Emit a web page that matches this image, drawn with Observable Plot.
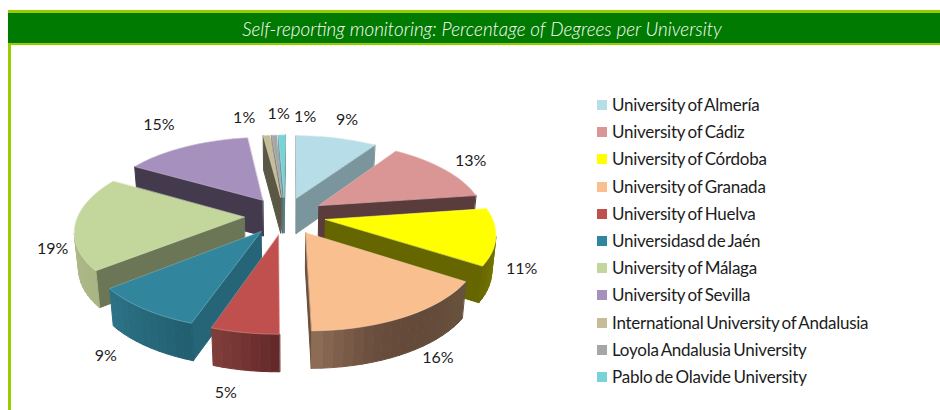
<!DOCTYPE html>
<html><head><meta charset="utf-8">
<script src="https://cdn.jsdelivr.net/npm/d3@7"></script>
<script src="https://cdn.jsdelivr.net/npm/@observablehq/plot@0.6"></script>
<style>
html,body{margin:0;padding:0;background:#fff;overflow:hidden}
#page{position:relative;width:940px;height:410px;font-family:Lato,sans-serif;color:#1c1c1c;overflow:hidden}
#title{position:absolute;left:8px;top:10px;right:0;height:30px;padding-left:16px;border-top:3px solid #99cc00;border-bottom:2px solid #99cc00;background:#007a00;color:#fff;font-style:italic;font-size:18.85px;font-weight:300;line-height:31px;text-align:center;box-shadow:0 0 1px #cfe88a}
#rule{position:absolute;left:8px;top:45px;bottom:0;width:3px;background:#99cc00}
#row{position:absolute;left:0;top:46px;display:flex}
#legend{position:absolute;left:597px;top:46px}
.item{position:absolute;left:0;white-space:nowrap;font-size:17px;letter-spacing:-.25px;word-spacing:-1.5px;line-height:20px;height:20px}
.sw{position:absolute;left:0;top:5px;width:10px;height:10px}
.tx{position:absolute;left:15px;top:0}
svg{display:block}
</style></head><body>
<div id="page">
<div id="title">Self-reporting monitoring: Percentage of Degrees per University</div>
<div id="rule"></div>
<div id="row"></div>
<div id="legend"></div>
</div>
<script>
const universities = ["University of Almería","University of Cádiz","University of Córdoba","University of Granada","University of Huelva","Universidasd de Jaén","University of Málaga","University of Sevilla","International University of Andalusia","Loyola Andalusia University","Pablo de Olavide University"];
const percentages = [9.3,13.3,11.4,15.7,5.4,9,19.1,14.6,.8,.6,.8];
const topColors = ["#b7dde8","#d99694","#ffff00","#f9bf8e","#c0504d","#31859c","#c3d69b","#a690bd","#c4bd97","#a6a6a6","#78d2d8"];
const sideColors = ["#7b959c","#5a3c3c","#666600","#6a4e3a","#7f3a38","#256577","#6b7656","#433a4e","#5a5744","#666666","#4c8488"];
const rimColors = [["#7b959c","#7b959c"],["#5a3c3c","#5a3c3c"],["#8a8a00","#7a7a00","#666600"],["#68523e","#644a38","#64493a","#94725a"],["#642a2a","#84403d"],["#225f70","#2d7489"],["#a9b583","#b4c08f"],["#433a4e","#5e5270"],["#5a5744","#5a5744"],["#666666","#666666"],["#4c8488","#4c8488"]];
const labelNudge = [[6,-9],[8,-2],[-5,22],[10,-7],[-14,4],[-16,1],[7,21],[-14,-14],[-19,-8],[7,-12],[25,-9]];

// pie geometry: unit disc, exploded, seen in perspective
const W=590,H=364,CX=284.5,CY=169;
const A=166,B=77,PERSP=.155,EXPLODE=.247,DEPTH=36,SHRINK=.98,ROT=.5,LABEL_R=1.42;
const rad=d=>d*Math.PI/180;
function project(u,v,low=false){
  const den=1+PERSP*v;
  let x=A*u/den,y=-B*v/den;
  if(low){x*=SHRINK;y=y*SHRINK+DEPTH/(1+.08*v);}
  return [x,y];
}
const total=d3.sum(percentages);
let cum=0;
const slices=percentages.map((p,i)=>{
  const a0=cum/total*360; cum+=p; const a1=cum/total*360;
  return {i,p,a0:a0+ROT,a1:a1+ROT,mid:(a0+a1)/2};
});
const rows=[];
function face(id,pts,fill,stroke,sw){pts.forEach(([x,y])=>rows.push({id,x,y,fill,stroke:stroke||fill,sw:sw||1}));}
[...slices].sort((s,t)=>Math.cos(rad(t.mid))-Math.cos(rad(s.mid))).forEach(s=>{
  const ou=EXPLODE*Math.sin(rad(s.mid)), ov=EXPLODE*Math.cos(rad(s.mid));
  const n=Math.max(2,Math.ceil((s.a1-s.a0)/3));
  const rim=d3.range(n+1).map(k=>{const a=rad(s.a0+(s.a1-s.a0)*k/n);return [ou+Math.sin(a),ov+Math.cos(a),k/n];});
  const apex=[ou,ov];
  const shade=d3.interpolateRgbBasis(rimColors[s.i]);
  const side=(id,P,Q,col)=>{
    const p=project(P[0],P[1]),q=project(Q[0],Q[1]);
    if(q[0]<p[0]) face(id,[p,q,project(Q[0],Q[1],true),project(P[0],P[1],true)],col);
  };
  side(`s${s.i}a`,apex,rim[0],sideColors[s.i]);
  side(`s${s.i}b`,rim[n],apex,sideColors[s.i]);
  for(let k=0;k<n;k++) side(`s${s.i}r${k}`,rim[k],rim[k+1],d3.rgb(shade(rim[k][2])).formatHex());
  const edge=d3.interpolateRgb(topColors[s.i],"#ffffff")(.35);
  face(`t${s.i}`,[project(...apex),...rim.map(r=>project(r[0],r[1]))],topColors[s.i],edge,.6);
});
const labels=slices.map(s=>{
  const c=Math.cos(rad(s.mid)),sn=Math.sin(rad(s.mid));
  const [x,y]=project(sn*(LABEL_R),c*(LABEL_R));
  return {x:x+labelNudge[s.i][0],y:y+Math.max(0,-c)*DEPTH+labelNudge[s.i][1],t:Math.round(s.p)+"%"};
});
const chart=Plot.plot({
  width:W,height:H,margin:0,
  x:{domain:[-CX,W-CX],range:[0,W],axis:null},
  y:{domain:[CY-H,CY],range:[H,0],axis:null},
  style:{background:"transparent",fontFamily:"Lato,sans-serif"},
  marks:[
    Plot.line(rows,{x:"x",y:d=>-d.y,z:"id",fill:"fill",stroke:"stroke",strokeWidth:"sw",curve:"linear-closed"}),
    Plot.text(labels,{x:"x",y:d=>-d.y,text:"t",fontSize:16,fill:"#1c1c1c"})
  ]
});
document.getElementById("row").append(chart);
const lg=document.getElementById("legend");
universities.forEach((u,i)=>{
  const d=document.createElement("div");d.className="item";d.style.top=(49+27.2*i)+"px";
  const sw=document.createElement("div");sw.className="sw";sw.style.background=topColors[i];
  const tx=document.createElement("div");tx.className="tx";tx.textContent=u;
  d.append(sw,tx);lg.append(d);
});
</script>
</body></html>
